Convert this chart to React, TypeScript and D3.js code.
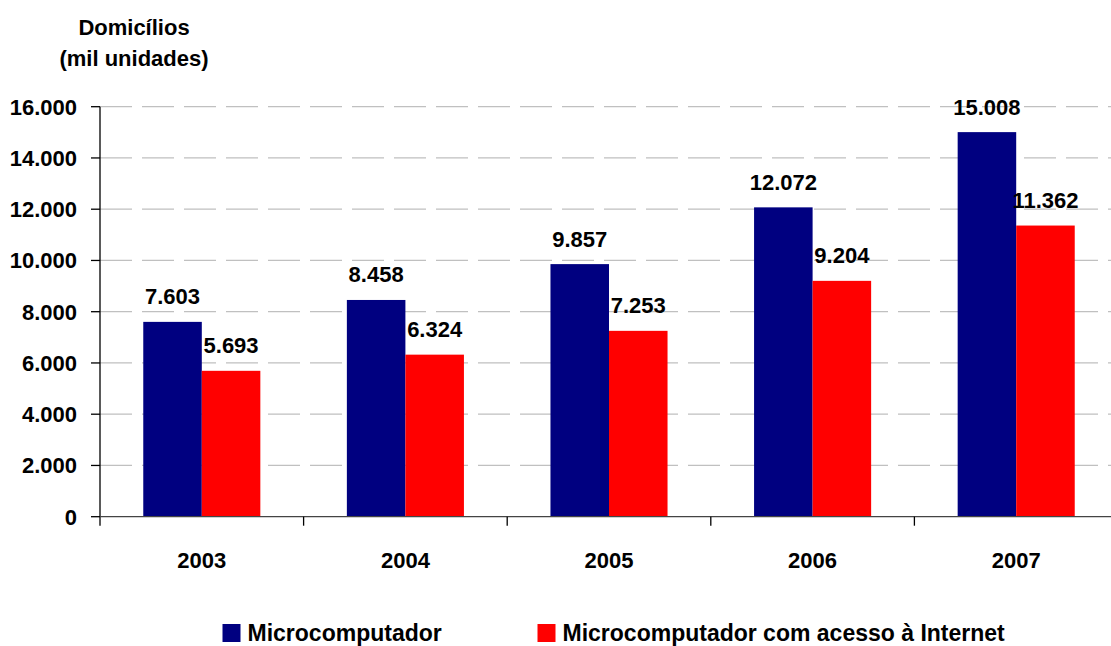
import * as d3 from "d3";

const years = ["2003", "2004", "2005", "2006", "2007"];
const seriesNames = ["Microcomputador", "Microcomputador com acesso à Internet"];
const microValues = [7603, 8458, 9857, 12072, 15008];
const internetValues = [5693, 6324, 7253, 9204, 11362];
const yTicks = [0, 2000, 4000, 6000, 8000, 10000, 12000, 14000, 16000];
const colors = ["#000080", "#FF0000"];

const W = 1111;
const H = 646;
const font = "'Liberation Sans', Arial, sans-serif";

const fmt = (v: number) => d3.format(",")(v).replace(/,/g, ".");

export default function App() {
  const left = 100;
  const top = 106.7;
  const bottom = 516.7;

  const x0 = d3.scaleBand<string>().domain(years).range([left, left + 5 * 203.6]);
  const bw = x0.bandwidth();
  const gw = bw * 0.575;
  const x1 = d3
    .scaleBand<string>()
    .domain(seriesNames)
    .range([(bw - gw) / 2, (bw + gw) / 2]);
  const y = d3.scaleLinear().domain([0, 16000]).range([bottom, top]);

  const series = [microValues, internetValues];

  return (
    <div style={{ position: "absolute", left: 0, top: 0 }}>
      <svg width={W} height={H} style={{ display: "block", background: "#fff" }}>
        {/* grid */}
        {yTicks.slice(1).map((t) => (
          <line
            key={"g" + t}
            x1={left}
            x2={W}
            y1={y(t)}
            y2={y(t)}
            stroke="#c0c0c0"
            strokeWidth={1.3}
            strokeDasharray="32 10"
          />
        ))}

        {/* bars */}
        {series.map((vals, si) =>
          years.map((yr, i) => (
            <rect
              key={si + "-" + yr}
              x={(x0(yr) ?? 0) + (x1(seriesNames[si]) ?? 0)}
              y={y(vals[i])}
              width={x1.bandwidth()}
              height={bottom - y(vals[i])}
              fill={colors[si]}
            />
          )),
        )}

        {/* value labels */}
        {series.map((vals, si) =>
          years.map((yr, i) => (
            <text
              key={"l" + si + yr}
              x={(x0(yr) ?? 0) + (x1(seriesNames[si]) ?? 0) + x1.bandwidth() / 2}
              y={y(vals[i]) - 17.5}
              textAnchor="middle"
              fontFamily={font}
              fontWeight="bold"
              fontSize={22}
              fill="#000"
            >
              {fmt(vals[i])}
            </text>
          )),
        )}

        {/* y axis */}
        <line x1={left} x2={left} y1={top} y2={bottom + 9} stroke="#000" strokeWidth={1.3} />
        {yTicks.map((t) => (
          <g key={"t" + t}>
            <line x1={left - 9} x2={left} y1={y(t)} y2={y(t)} stroke="#000" strokeWidth={1.3} />
            <text
              x={77}
              y={y(t) + 8}
              textAnchor="end"
              fontFamily={font}
              fontWeight="bold"
              fontSize={22}
            >
              {fmt(t)}
            </text>
          </g>
        ))}

        {/* x axis */}
        <line x1={left} x2={W} y1={bottom} y2={bottom} stroke="#444" strokeWidth={1.3} />
        {years.map((yr) => (
          <g key={"x" + yr}>
            <line
              x1={(x0(yr) ?? 0) + bw}
              x2={(x0(yr) ?? 0) + bw}
              y1={bottom}
              y2={bottom + 9}
              stroke="#000"
              strokeWidth={1.3}
            />
            <text
              x={(x0(yr) ?? 0) + bw / 2}
              y={568}
              textAnchor="middle"
              fontFamily={font}
              fontWeight="bold"
              fontSize={22}
            >
              {yr}
            </text>
          </g>
        ))}

        {/* axis title */}
        <text x={134} y={35} textAnchor="middle" fontFamily={font} fontWeight="bold" fontSize={22}>
          Domicílios
        </text>
        <text x={134} y={66} textAnchor="middle" fontFamily={font} fontWeight="bold" fontSize={22}>
          (mil unidades)
        </text>

        {/* legend */}
        {[222.5, 537.5].map((lx, i) => (
          <g key={"leg" + i}>
            <rect x={lx} y={624} width={18} height={18} fill={colors[i]} />
            <text x={lx + 25} y={640.5} fontFamily={font} fontWeight="bold" fontSize={23}>
              {seriesNames[i]}
            </text>
          </g>
        ))}
      </svg>
    </div>
  );
}
